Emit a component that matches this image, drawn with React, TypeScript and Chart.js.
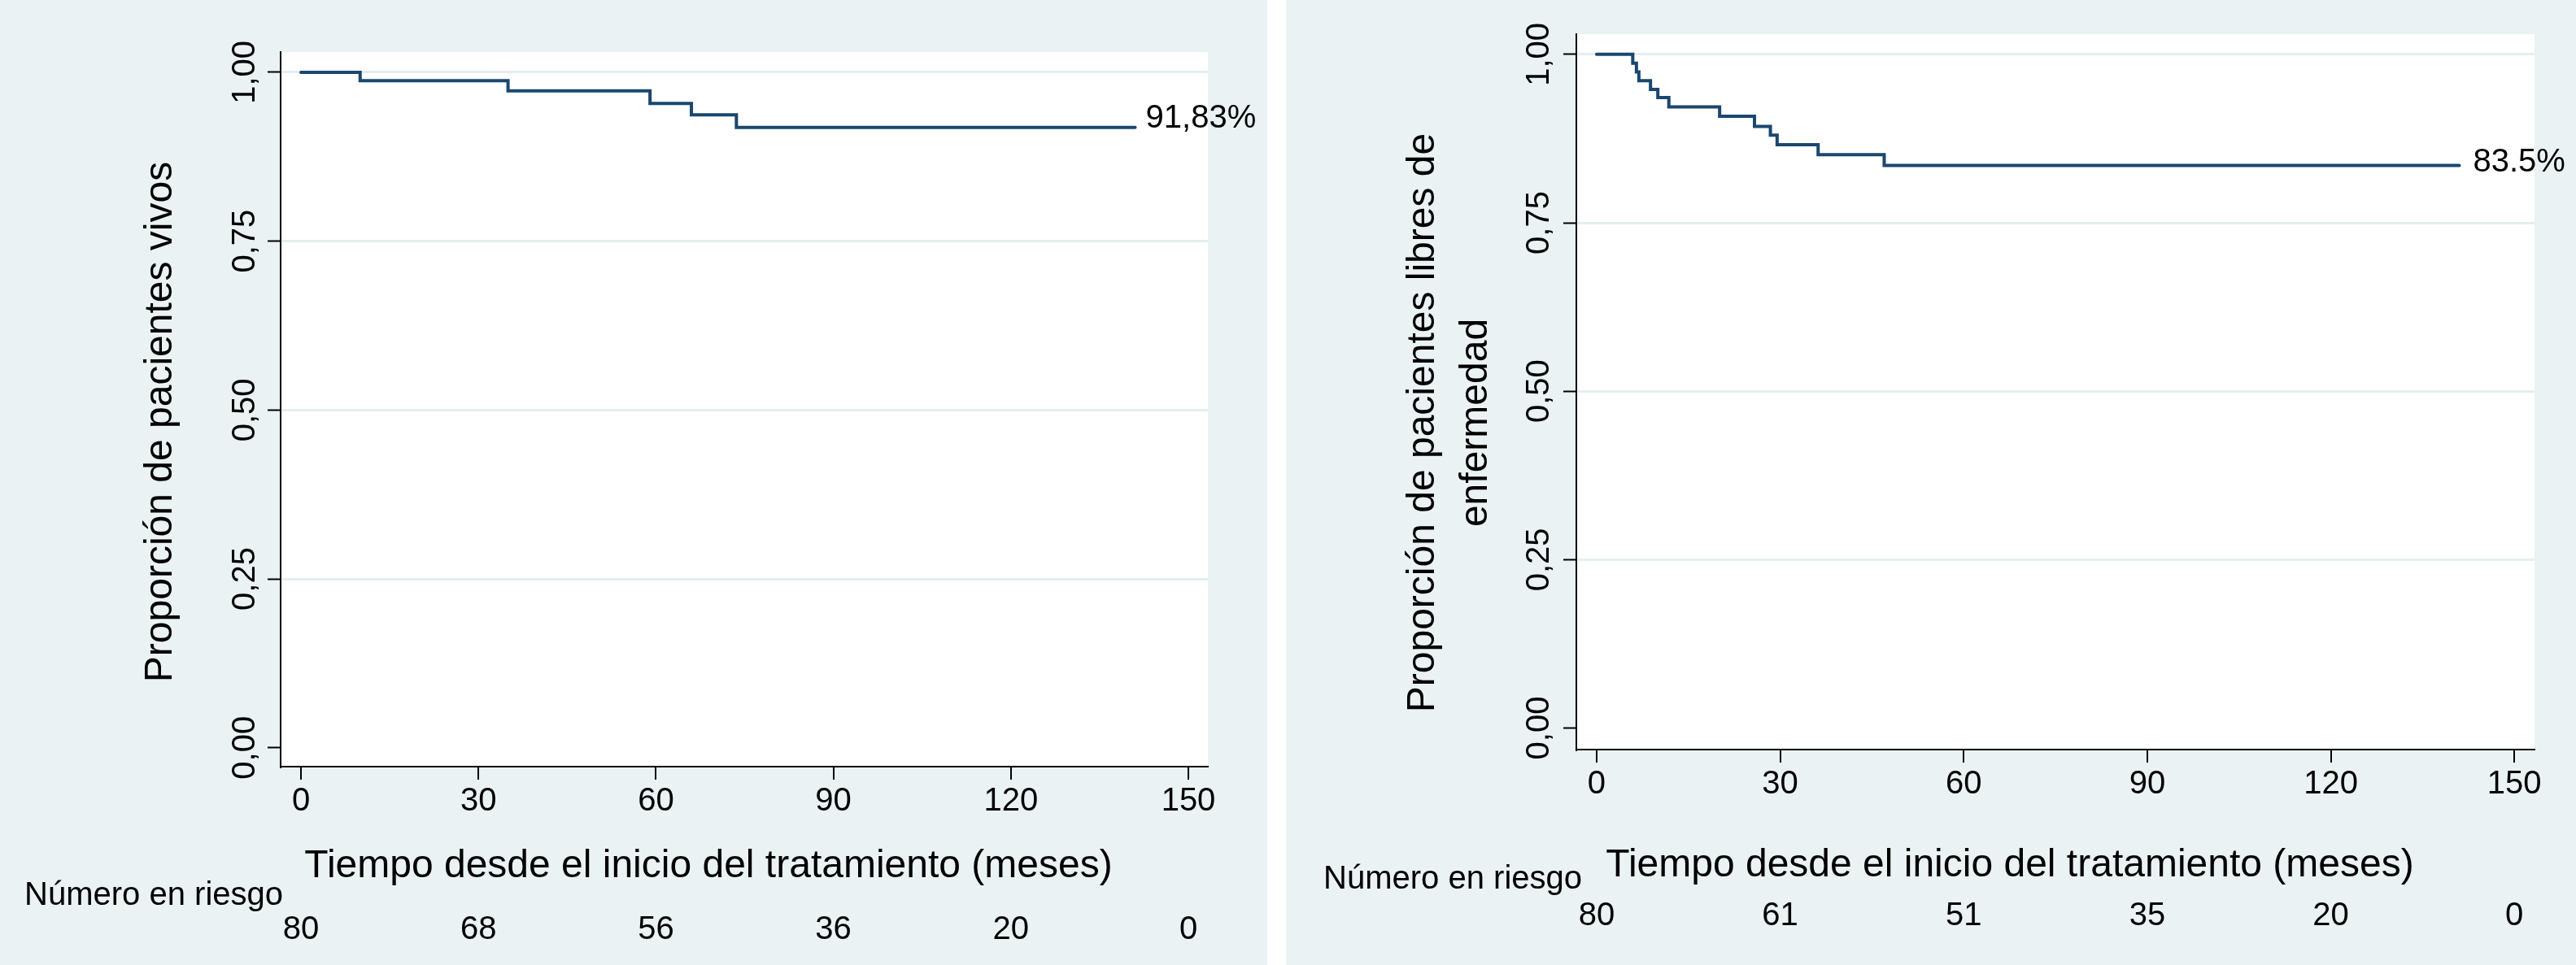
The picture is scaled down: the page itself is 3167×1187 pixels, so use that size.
import React, { useEffect, useRef } from 'react';
import { Chart, registerables } from 'chart.js';

Chart.register(...registerables);

// ---------- data ----------
const xTicks = [0, 30, 60, 90, 120, 150];
const yTicks = [0, 0.25, 0.5, 0.75, 1];
const yTickLabels = ['0,00', '0,25', '0,50', '0,75', '1,00'];

const osTimes = [0, 10, 35, 59, 66, 73.6, 141];
const osSurvival = [1, 0.9875, 0.9726, 0.954, 0.937, 0.9183, 0.9183];
const osAtRisk = [80, 68, 56, 36, 20, 0];

const dfsTimes = [0, 5.9, 6.5, 6.9, 8.8, 10.0, 11.8, 20.1, 25.8, 28.4, 29.5, 36.2, 47.0, 141];
const dfsSurvival = [1, 0.987, 0.974, 0.961, 0.948, 0.936, 0.922, 0.908, 0.893, 0.88, 0.866, 0.851, 0.835, 0.835];
const dfsAtRisk = [80, 61, 51, 35, 20, 0];

// ---------- style ----------
const FONT = '"Liberation Sans", Arial, Helvetica, sans-serif';
const BG = '#EAF2F3';
const GRID = '#E4EEF0';
const LINE = '#1A476F';
const H = 1187;

type Panel = {
  left: number;
  width: number;
  area: { left: number; top: number; right: number; bottom: number };
  xMin: number;
  xMax: number;
  yMin: number;
  yMax: number;
  times: number[];
  surv: number[];
  atRisk: number[];
  endLabel: string;
  endDx: number;
  endDy: number;
  yTickGap: number;
  yTitle: string[];
  yTitleX: number[];
  yTitleCy: number;
  xTitle: string;
  xTitleCx: number;
  xTitleBase: number;
  riskLabel: string;
  riskLabelRight: number;
  riskLabelBase: number;
  riskNumBase: number;
};

const panels: Panel[] = [
  {
    left: 0,
    width: 1558,
    area: { left: 345, top: 64, right: 1485, bottom: 943 },
    xMin: -3.44,
    xMax: 153.3,
    yMin: -0.028,
    yMax: 1.03,
    times: osTimes,
    surv: osSurvival,
    atRisk: osAtRisk,
    endLabel: '91,83%',
    endDx: 13,
    endDy: 0,
    yTickGap: 32,
    yTitle: ['Proporción de pacientes vivos'],
    yTitleX: [211],
    yTitleCy: 519,
    xTitle: 'Tiempo desde el inicio del tratamiento (meses)',
    xTitleCx: 871,
    xTitleBase: 1079,
    riskLabel: 'Número en riesgo',
    riskLabelRight: 348,
    riskLabelBase: 1113,
    riskNumBase: 1155,
  },
  {
    left: 1581,
    width: 1586,
    area: { left: 357, top: 42, right: 1535, bottom: 922 },
    xMin: -3.32,
    xMax: 153.3,
    yMin: -0.032,
    yMax: 1.03,
    times: dfsTimes,
    surv: dfsSurvival,
    atRisk: dfsAtRisk,
    endLabel: '83.5%',
    endDx: 17,
    endDy: 7,
    yTickGap: 34,
    yTitle: ['Proporción de pacientes libres de', 'enfermedad'],
    yTitleX: [182, 247],
    yTitleCy: 520,
    xTitle: 'Tiempo desde el inicio del tratamiento (meses)',
    xTitleCx: 890,
    xTitleBase: 1078,
    riskLabel: 'Número en riesgo',
    riskLabelRight: 364,
    riskLabelBase: 1093,
    riskNumBase: 1138,
  },
];

function KMPanel({ p }: { p: Panel }) {
  const ref = useRef<HTMLCanvasElement | null>(null);

  useEffect(() => {
    const canvas = ref.current;
    if (!canvas) return;

    const decor = {
      id: 'kmDecor',
      beforeDraw(chart: any) {
        const { ctx, chartArea: a } = chart;
        ctx.save();
        ctx.fillStyle = BG;
        ctx.fillRect(0, 0, chart.width, chart.height);
        ctx.fillStyle = '#ffffff';
        ctx.fillRect(a.left, a.top, a.right - a.left, a.bottom - a.top);
        ctx.restore();
      },
      afterDraw(chart: any) {
        const { ctx, chartArea: a } = chart;
        const xs = chart.scales.x;
        const ys = chart.scales.y;
        ctx.save();
        ctx.fillStyle = '#000';
        ctx.textBaseline = 'alphabetic';

        // y tick labels (rotated)
        ctx.font = `40px ${FONT}`;
        yTicks.forEach((v, i) => {
          const py = ys.getPixelForValue(v);
          ctx.save();
          ctx.translate(a.left - p.yTickGap, py);
          ctx.rotate(-Math.PI / 2);
          ctx.textAlign = 'center';
          ctx.fillText(yTickLabels[i], 0, 0);
          ctx.restore();
        });

        // y title (rotated)
        ctx.font = `48px ${FONT}`;
        p.yTitle.forEach((line, i) => {
          ctx.save();
          ctx.translate(p.yTitleX[i], p.yTitleCy);
          ctx.rotate(-Math.PI / 2);
          ctx.textAlign = 'center';
          ctx.fillText(line, 0, 0);
          ctx.restore();
        });

        // x title
        ctx.textAlign = 'center';
        ctx.fillText(p.xTitle, p.xTitleCx, p.xTitleBase);

        // end label
        const last = p.times.length - 1;
        ctx.font = `40px ${FONT}`;
        ctx.textAlign = 'left';
        ctx.fillText(
          p.endLabel,
          xs.getPixelForValue(p.times[last]) + p.endDx,
          ys.getPixelForValue(p.surv[last]) + p.endDy
        );

        // risk table
        ctx.textAlign = 'right';
        ctx.fillText(p.riskLabel, p.riskLabelRight, p.riskLabelBase);
        ctx.textAlign = 'center';
        xTicks.forEach((t, i) => {
          ctx.fillText(String(p.atRisk[i]), xs.getPixelForValue(t), p.riskNumBase);
        });
        ctx.restore();
      },
    };

    const chart = new Chart(canvas, {
      type: 'line',
      data: {
        datasets: [
          {
            data: p.times.map((t, i) => ({ x: t, y: p.surv[i] })),
            stepped: true,
            borderColor: LINE,
            borderWidth: 4,
            borderCapStyle: 'round',
            borderJoinStyle: 'miter',
            pointRadius: 0,
            fill: false,
            tension: 0,
          } as any,
        ],
      },
      options: {
        animation: false,
        responsive: false,
        devicePixelRatio: 1,
        events: [],
        layout: {
          padding: {
            left: 0,
            top: p.area.top,
            right: p.width - p.area.right,
            bottom: 0,
          },
        },
        plugins: {
          legend: { display: false },
          tooltip: { enabled: false },
          title: { display: false },
        },
        scales: {
          x: {
            type: 'linear',
            min: p.xMin,
            max: p.xMax,
            afterBuildTicks: (s: any) => {
              s.ticks = xTicks.map((v) => ({ value: v }));
            },
            afterFit: (s: any) => {
              s.height = H - p.area.bottom;
            },
            ticks: {
              autoSkip: false,
              maxRotation: 0,
              minRotation: 0,
              padding: 3,
              color: '#000',
              font: { family: FONT, size: 40, lineHeight: 1.2 },
              callback: (v: any) => String(v),
            },
            grid: {
              drawOnChartArea: false,
              drawTicks: true,
              tickLength: 16,
              tickColor: '#000',
              tickWidth: 2,
              color: '#000',
              lineWidth: 2,
            },
            border: { display: true, color: '#000', width: 2 },
          },
          y: {
            type: 'linear',
            min: p.yMin,
            max: p.yMax,
            afterBuildTicks: (s: any) => {
              s.ticks = yTicks.map((v) => ({ value: v }));
            },
            afterFit: (s: any) => {
              s.width = p.area.left;
            },
            ticks: { display: false },
            grid: {
              drawOnChartArea: true,
              drawTicks: true,
              tickLength: 16,
              tickColor: '#000',
              tickWidth: 2,
              lineWidth: 3,
              color: (ctx: any) =>
                ctx.tick && ctx.tick.value === 0 ? 'rgba(0,0,0,0)' : GRID,
            },
            border: { display: true, color: '#000', width: 2 },
          },
        },
      },
      plugins: [decor],
    } as any);

    return () => chart.destroy();
  }, [p]);

  return (
    <canvas
      ref={ref}
      width={p.width}
      height={H}
      style={{ position: 'absolute', left: p.left, top: 0, width: p.width, height: H }}
    />
  );
}

export default function App() {
  return (
    <div
      style={{
        position: 'absolute',
        left: 0,
        top: 0,
        width: 3167,
        height: H,
        background: '#ffffff',
        overflow: 'hidden',
      }}
    >
      {panels.map((p, i) => (
        <KMPanel key={i} p={p} />
      ))}
    </div>
  );
}
